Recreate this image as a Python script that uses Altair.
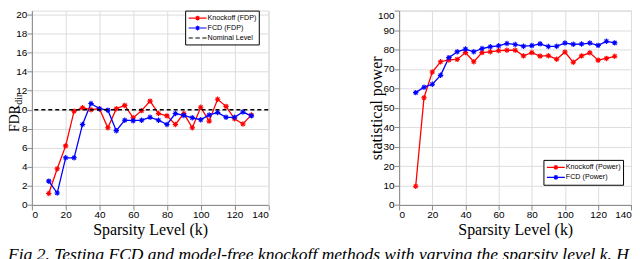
import altair as alt
import pandas as pd

# ---------------- data ----------------
k = [10, 15, 20, 25, 30, 35, 40, 45, 50, 55, 60, 65, 70, 75, 80, 85, 90, 95,
     100, 105, 110, 115, 120, 125, 130]

fdr_knockoff = [1.2, 3.8, 6.2, 9.85, 10.2, 10.0, 10.1, 8.1, 10.1, 10.45, 9.15, 9.9,
                10.9, 9.6, 9.35, 8.45, 9.6, 8.1, 10.25, 8.8, 11.1, 10.35, 9.05, 8.5, 9.45]
fdr_fcd = [2.5, 1.25, 4.95, 4.95, 8.45, 10.65, 10.1, 9.95, 7.8, 8.9, 8.85, 8.9,
           9.2, 8.9, 8.45, 9.6, 9.4, 9.15, 8.95, 9.45, 9.7, 9.2, 9.2, 9.75, 9.35]

power_knockoff = [9.6, 55.2, 68.4, 73.7, 74.6, 74.9, 78.4, 73.7, 78.4, 78.8, 79.4,
                  79.6, 79.6, 76.7, 78.4, 76.6, 76.8, 75.0, 78.7, 73.4, 76.7, 78.3,
                  74.5, 75.4, 76.5]
power_fcd = [57.8, 60.6, 62.1, 66.7, 75.8, 78.8, 80.2, 78.8, 80.5, 81.4, 81.9, 83.1,
             82.6, 81.7, 82.0, 82.9, 81.5, 81.7, 83.3, 82.7, 82.8, 83.3, 82.1, 84.2, 83.4]

nominal_level = [10]

fdr_series = ["Knockoff (FDP)", "FCD (FDP)", "Nominal Level"]
power_series = ["Knockoff (Power)", "FCD (Power)"]
series_colors = ["#ff0000", "#0000ff", "#000000"]

x_ticks = [0, 20, 40, 60, 80, 100, 120, 140]
fdr_ticks = [0, 2, 4, 6, 8, 10, 12, 14, 16, 18, 20]
power_ticks = [0, 10, 20, 30, 40, 50, 60, 70, 80, 90, 100]

x_title = "Sparsity Level (k)"
left_title_main = ["FDR"]
left_title_sub = ["dir"]
right_title = "statistical power"
caption = ("Fig 2. Testing FCD and model-free knockoff methods with varying "
           "the sparsity level k. H")

# ---------------- tables ----------------
df_fdr = pd.DataFrame({
    "k": k + k,
    "value": fdr_knockoff + fdr_fcd,
    "series": [fdr_series[0]] * len(k) + [fdr_series[1]] * len(k),
})
df_nom = pd.DataFrame({"value": nominal_level, "series": [fdr_series[2]]})
df_fdr_leg = pd.DataFrame({"series": fdr_series})

df_pow = pd.DataFrame({
    "k": k + k,
    "value": power_knockoff + power_fcd,
    "series": [power_series[0]] * len(k) + [power_series[1]] * len(k),
})
df_pow_leg = pd.DataFrame({"series": power_series})

# ---------------- styles ----------------
STAR = "M-1,0L1,0M0,-1L0,1M-0.7,-0.7L0.7,0.7M-0.7,0.7L0.7,-0.7"
LEG_STAR = "M-1,0L3.5,0M1.25,-0.6L1.25,0.6M0.83,-0.42L1.67,0.42M0.83,0.42L1.67,-0.42"
LEG_DASH = "M-1,0L0.05,0M0.7,0L1.8,0M2.45,0L3.5,0"

SANS = "Liberation Sans"
SERIF = "Liberation Serif"


def legend(x, y):
    return alt.Legend(
        title=None, orient="none", legendX=x, legendY=y,
        fillColor="white", strokeColor="black", padding=2.5, cornerRadius=0,
        symbolSize=64, symbolStrokeWidth=1.2, symbolFillColor="transparent",
        labelFont=SANS, labelFontSize=7.2, labelColor="black",
        labelOffset=10, rowPadding=0,
    )


def x_enc():
    return alt.X(
        "k:Q",
        scale=alt.Scale(domain=[0, 140], nice=False, zero=False),
        axis=alt.Axis(values=x_ticks, title=x_title, titleFont=SERIF,
                      titleFontSize=16, titleFontWeight="normal",
                      titleColor="black", titlePadding=2, labelPadding=0),
    )


L_W, L_H = 237.5, 195.3
R_W, R_H = 233.3, 195.3

# ---------------- left panel ----------------
left_color = alt.Color("series:N", scale=alt.Scale(domain=fdr_series, range=series_colors),
                       legend=legend(154, 0))
left_shape = alt.Shape("series:N",
                       scale=alt.Scale(domain=fdr_series, range=[LEG_STAR, LEG_STAR, LEG_DASH]),
                       legend=legend(154, 0))


def y_left():
    return alt.Y("value:Q", scale=alt.Scale(domain=[0, 20.4], nice=False),
                 axis=alt.Axis(values=fdr_ticks, title=None, labelPadding=0))


left_base = alt.Chart(df_fdr)
l_line = left_base.mark_line(strokeWidth=1.3).encode(x=x_enc(), y=y_left(), color=left_color)
l_pts = left_base.mark_point(shape=STAR, filled=False, size=30, strokeWidth=1.1,
                             opacity=1).encode(x=x_enc(), y=y_left(), color=left_color)
l_rule = alt.Chart(df_nom).mark_rule(strokeDash=[4, 3], strokeWidth=1.4).encode(
    y=y_left(), color=left_color)
l_leg = alt.Chart(df_fdr_leg).transform_filter("false").mark_point(filled=False).encode(
    shape=left_shape, color=left_color)
l_t1 = alt.Chart(pd.DataFrame({"t": left_title_main})).mark_text(
    angle=270, align="left", baseline="alphabetic", font=SERIF, fontSize=14,
    color="black").encode(text="t:N", x=alt.value(-12.5), y=alt.value(122))
l_t2 = alt.Chart(pd.DataFrame({"t": left_title_sub})).mark_text(
    angle=270, align="left", baseline="alphabetic", font=SERIF, fontSize=10,
    color="black").encode(text="t:N", x=alt.value(-10.3), y=alt.value(94.5))

left = alt.layer(l_line, l_pts, l_rule, l_leg, l_t1, l_t2).properties(width=L_W, height=L_H)

# ---------------- right panel ----------------
right_color = alt.Color("series:N", scale=alt.Scale(domain=power_series, range=series_colors[:2]),
                        legend=legend(145, 150))
right_shape = alt.Shape("series:N",
                        scale=alt.Scale(domain=power_series, range=[LEG_STAR, LEG_STAR]),
                        legend=legend(145, 150))


def y_right():
    return alt.Y("value:Q", scale=alt.Scale(domain=[0, 100], nice=False),
                 axis=alt.Axis(values=power_ticks, title=right_title, titleFont=SERIF,
                               titleFontSize=16, titleFontWeight="normal",
                               titleColor="black", titleX=-18, titleBaseline="alphabetic",
                               labelPadding=0,
                               labelBaseline={"condition": {"test": "datum.value >= 100",
                                                            "value": "top"},
                                              "value": "middle"}))


right_base = alt.Chart(df_pow)
r_line = right_base.mark_line(strokeWidth=1.3).encode(x=x_enc(), y=y_right(), color=right_color)
r_pts = right_base.mark_point(shape=STAR, filled=False, size=30, strokeWidth=1.1,
                              opacity=1).encode(x=x_enc(), y=y_right(), color=right_color)
r_leg = alt.Chart(df_pow_leg).transform_filter("false").mark_point(filled=False).encode(
    shape=right_shape, color=right_color)
right = alt.layer(r_line, r_pts, r_leg).properties(width=R_W, height=R_H)

chart = alt.hconcat(left, right, spacing=131, bounds="flush").resolve_scale(
    color="independent", shape="independent"
).resolve_legend(
    color="independent", shape="independent"
).properties(
    padding=0,
    title=alt.TitleParams(caption, orient="bottom", anchor="start", font=SERIF,
                          fontSize=17.6, fontStyle="italic", fontWeight="normal",
                          color="black", baseline="alphabetic", offset=22),
).configure_view(stroke=None).configure_axis(
    grid=False, domainColor="#555", tickColor="#555", tickSize={"expr": "-3"},
    labelFont=SANS, labelFontSize=7, labelColor="#333",
).configure(background="white")

chart.save("out.html", embed_options={"renderer": "svg", "actions": False})
